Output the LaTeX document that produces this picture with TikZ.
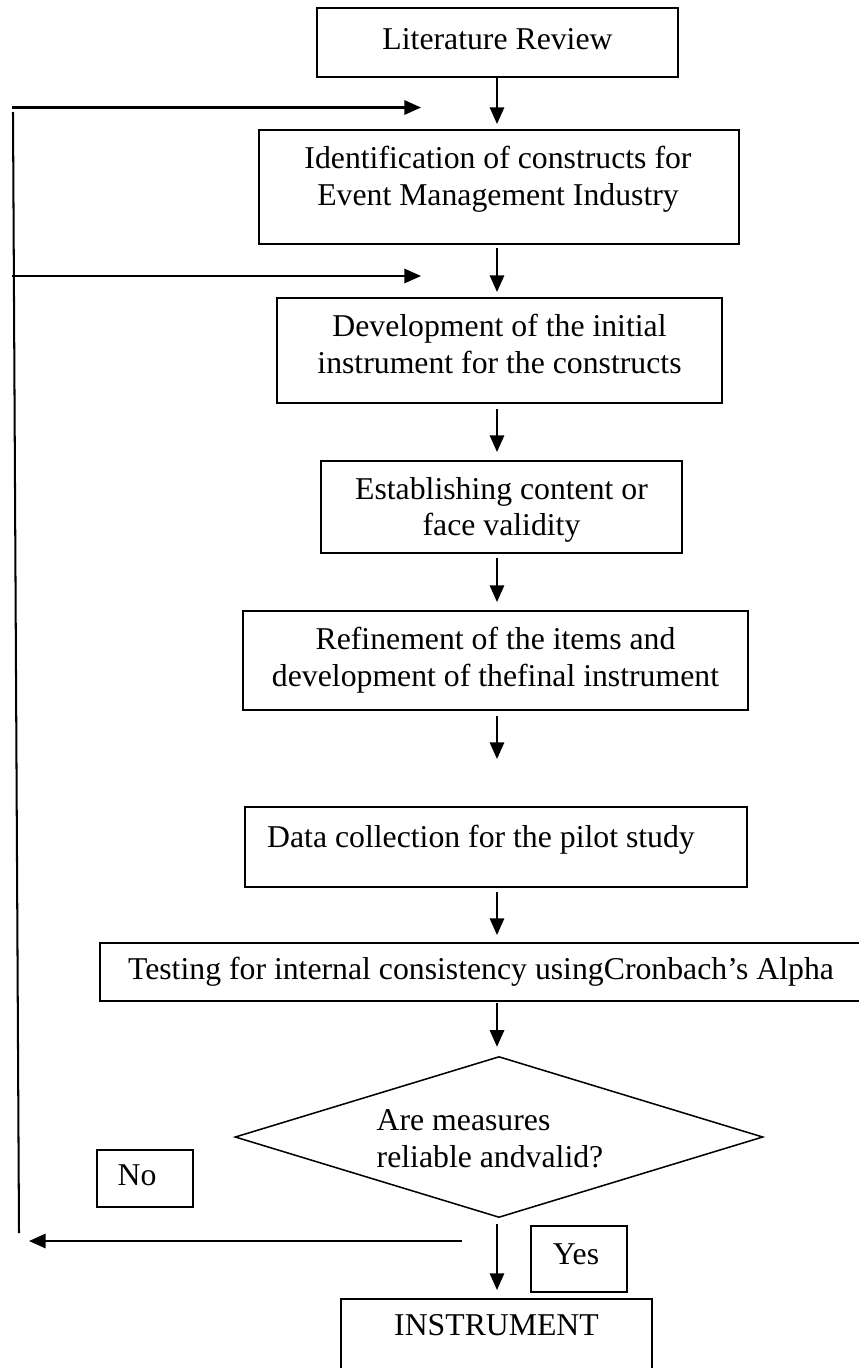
\documentclass[tikz,border=0pt]{standalone}
\usepackage{fontspec}
\setmainfont{Liberation Serif}
\usetikzlibrary{arrows.meta,shapes.geometric}
% one drawing unit
\newdimen\pxu \pxu=0.3937pt
% box text: horizontal pad, lift, column alignment, lines
\newcommand\boxtext[4]{\hspace*{#1}\raisebox{#2}[\height][\depth]{\begin{tabular}{@{}#3@{}}#4\end{tabular}}}

\begin{document}
\begin{tikzpicture}[x=0.3937pt,y=-0.3937pt,
  every node/.style={font=\fontsize{12.5}{14.4}\selectfont, inner sep=0pt},
  stepbox/.style={draw, line width=0.8pt, rectangle},
  tagbox/.style={draw, line width=0.6pt, rectangle},
  decision/.style={draw, line width=0.6pt, diamond, aspect=3.28},
  arr/.style={line width=0.8pt, -{Triangle[length=6.5pt,width=5.6pt]}},
  fb/.style={line width=0.8pt}]

\useasboundingbox (0,0) rectangle (859,1368);
\clip (0,0) rectangle (859,1368);

% process steps
\node[stepbox, minimum width=361*\pxu, minimum height=69*\pxu] (lit) at (497.5,42.5)
  {\boxtext{0pt}{0pt}{c}{Literature Review}};
\node[stepbox, minimum width=480*\pxu, minimum height=114*\pxu] (ident) at (499,187)
  {\boxtext{-2\pxu}{7.5\pxu}{c}{Identification of constructs for\\Event Management Industry}};
\node[stepbox, minimum width=445*\pxu, minimum height=105*\pxu] (dev) at (499.5,350.5)
  {\boxtext{0pt}{3\pxu}{c}{Development of the initial\\instrument for the constructs}};
\node[stepbox, minimum width=361*\pxu, minimum height=92*\pxu] (est) at (501.5,507)
  {\boxtext{0pt}{-3\pxu}{c}{Establishing content or\\face validity}};
\node[stepbox, minimum width=505*\pxu, minimum height=99*\pxu] (ref) at (495.5,660.5)
  {\boxtext{0pt}{0pt}{c}{Refinement of the items and\\development of thefinal instrument}};
\node[stepbox, minimum width=502*\pxu, minimum height=80*\pxu] (data) at (496,847)
  {\boxtext{-30\pxu}{7\pxu}{c}{Data collection for the pilot study}};
\node[stepbox, minimum width=762*\pxu, minimum height=58*\pxu] (test) at (481,972)
  {\boxtext{0pt}{0pt}{c}{Testing for internal consistency usingCronbach’s Alpha}};
\node[decision, minimum width=528*\pxu, minimum height=161*\pxu] (dec) at (499,1137)
  {\boxtext{-18\pxu}{-4.5\pxu}{l}{Are measures\\reliable andvalid?}};
\node[stepbox, minimum width=311*\pxu, minimum height=79*\pxu] (instr) at (496.5,1338.5)
  {\boxtext{0pt}{10.5\pxu}{c}{INSTRUMENT}};

% answer tags
\node[tagbox, minimum width=96*\pxu, minimum height=57*\pxu] (no) at (145,1178.5)
  {\boxtext{-16\pxu}{0pt}{c}{No}};
\node[tagbox, minimum width=96*\pxu, minimum height=66*\pxu] (yes) at (579,1259)
  {\boxtext{-6\pxu}{2\pxu}{c}{Yes}};

% main flow
\coordinate (spine) at (497,0);
\draw[arr, shorten >=5*\pxu] (lit.south -| spine) -- (ident.north -| spine);
\draw[arr, shorten <=3*\pxu, shorten >=5*\pxu] (ident.south -| spine) -- (dev.north -| spine);
\draw[arr, shorten <=5*\pxu, shorten >=8*\pxu] (dev.south -| spine) -- (est.north -| spine);
\draw[arr, shorten <=4*\pxu, shorten >=8*\pxu] (est.south -| spine) -- (ref.north -| spine);
\draw[arr, shorten <=5*\pxu, shorten >=47*\pxu] (ref.south -| spine) -- (data.north -| spine);
\draw[arr, shorten <=4*\pxu, shorten >=7*\pxu] (data.south -| spine) -- (test.north -| spine);
\draw[arr, shorten <=1*\pxu, shorten >=9*\pxu] (test.south -| spine) -- (dec.north -| spine);
\draw[arr, shorten <=6*\pxu, shorten >=8*\pxu] (dec.south -| spine) -- (instr.north -| spine);

% feedback loop
\coordinate (loopa) at (12,107.5);
\coordinate (loopaend) at (421,107.5);
\coordinate (loopb) at (12,276);
\coordinate (loopbend) at (421,276);
\coordinate (looptop) at (13,112);
\coordinate (loopbot) at (19,1233);
\coordinate (back) at (462,1241);
\coordinate (backend) at (29,1241);
\draw[arr] (loopa) -- (loopaend);
\draw[arr] (loopb) -- (loopbend);
\draw[fb] (looptop) -- (loopbot);
\draw[arr] (back) -- (backend);

\end{tikzpicture}
\end{document}
